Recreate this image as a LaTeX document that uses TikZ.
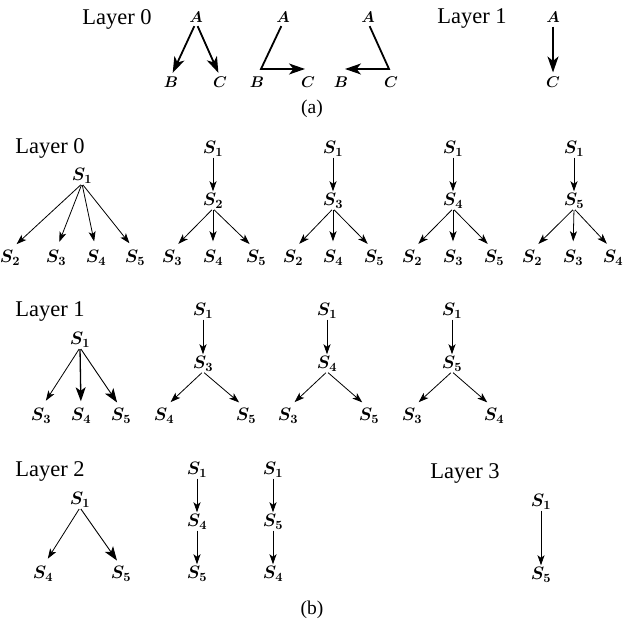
\RequirePackage{fix-cm}
\documentclass[tikz,border=0pt]{standalone}
\usepackage{amsmath}
\usepackage[no-math]{fontspec}
\newfontfamily\tnr{Liberation Serif}
\usetikzlibrary{arrows.meta}
\DeclareFontShape{OML}{cmm}{m}{it}{<-9>cmmi8<9-11>cmmi10<11->cmmi12}{}
\DeclareFontShape{OML}{cmm}{b}{it}{<->cmmib10}{}
\DeclareFontShape{OT1}{cmr}{m}{n}{<-9>cmr8<9-11>cmr10<11->cmr12}{}
\DeclareFontShape{OT1}{cmr}{bx}{n}{<->cmbx10}{}
\DeclareFontShape{OMS}{cmsy}{m}{n}{<-9>cmsy8<9->cmsy10}{}
\DeclareFontShape{OMS}{cmsy}{b}{n}{<->cmbsy10}{}
\newcommand\Sn[1]{$\boldsymbol{S_{#1}}$}
\tikzset{
  lay/.style={font=\tnr\fontsize{22.5}{26}\selectfont, inner sep=0pt},
  capt/.style={font=\tnr\fontsize{19.5}{22}\selectfont, inner sep=0pt},
  sn/.style={font=\fontsize{18}{21}\selectfont, inner sep=0pt},
  abn/.style={font=\fontsize{15.5}{17}\selectfont, inner sep=0pt},
  sarr/.tip={Stealth[length=10pt,width=7pt,inset=2.5pt]},
  barr/.tip={Stealth[length=14pt,width=10pt,inset=3.5pt]},
  tarr/.tip={Stealth[length=16pt,width=11pt,inset=4.5pt]},
  fan/.style={-sarr, line width=0.8pt, shorten <=1.5pt, shorten >=9pt},
  fanbig/.style={-barr, line width=0.9pt, shorten <=1.5pt, shorten >=7pt},
  chain/.style={-sarr, line width=0.8pt, shorten <=1pt, shorten >=2pt},
  thk/.style={-tarr, line width=1.8pt, line join=miter, shorten <=4pt}
}
\begin{document}
\begin{tikzpicture}[x=1pt,y=-1pt]
\useasboundingbox (0,0) rectangle (624,620);
% ---------------- (a) ----------------
\node[lay] (la0) at (117,19) {Layer 0};
\node[abn] (a1) at (196,17) {$\boldsymbol{A}$};
\node[abn] (b1) at (171,82) {$\boldsymbol{B}$};
\node[abn] (c1) at (220,82) {$\boldsymbol{C}$};
\draw[thk, shorten >=4pt] (a1.south) -- (b1.north);
\draw[thk, shorten >=4pt] (a1.south) -- (c1.north);
\node[abn] (a2) at (283,17) {$\boldsymbol{A}$};
\node[abn] (b2) at (257,82) {$\boldsymbol{B}$};
\node[abn] (c2) at (308,82) {$\boldsymbol{C}$};
\coordinate (k2) at (261,69);
\draw[thk, shorten >=3pt] (a2.south) -- (k2) -- (k2 -| c2);
\node[abn] (a3) at (368,17) {$\boldsymbol{A}$};
\node[abn] (b3) at (341,82) {$\boldsymbol{B}$};
\node[abn] (c3) at (391,82) {$\boldsymbol{C}$};
\coordinate (k3) at (389,69);
\draw[thk, shorten >=4pt] (a3.south) -- (k3) -- (k3 -| b3);
\node[lay] (la1) at (472,19) {Layer 1};
\node[abn] (a4) at (553,17) {$\boldsymbol{A}$};
\node[abn] (c4) at (553,82) {$\boldsymbol{C}$};
\draw[thk, shorten >=4pt] (a4.south) -- (c4.north);
\node[capt] (capa) at (312,109) {(a)};
% ---------------- (b) Layer 0 ----------------
\node[lay] (lb0) at (50,148) {Layer 0};
\node[sn] (t1r) at (82,176) {\Sn1};
\node[sn] (t1a) at (10,258) {\Sn2};
\node[sn] (t1b) at (56,258) {\Sn3};
\node[sn] (t1c) at (96,258) {\Sn4};
\node[sn] (t1d) at (135,258) {\Sn5};
\foreach \c in {t1a,t1b,t1c,t1d} \draw[fan] (t1r.south) -- (\c.north);
% tree 2
\node[sn] (t2r) at (213,149) {\Sn1};
\node[sn] (t2m) at (213,201) {\Sn2};
\node[sn] (t2a) at (172,258) {\Sn3};
\node[sn] (t2b) at (213,258) {\Sn4};
\node[sn] (t2c) at (256,258) {\Sn5};
\draw[chain] (t2r.south) -- (t2m.north);
\foreach \c in {t2a,t2b,t2c} \draw[fan] (t2m.south) -- (\c.north);
% tree 3
\node[sn] (t3r) at (333,149) {\Sn1};
\node[sn] (t3m) at (333,201) {\Sn3};
\node[sn] (t3a) at (293,258) {\Sn2};
\node[sn] (t3b) at (333,258) {\Sn4};
\node[sn] (t3c) at (374,258) {\Sn5};
\draw[chain] (t3r.south) -- (t3m.north);
\foreach \c in {t3a,t3b,t3c} \draw[fan] (t3m.south) -- (\c.north);
% tree 4
\node[sn] (t4r) at (453,149) {\Sn1};
\node[sn] (t4m) at (453,201) {\Sn4};
\node[sn] (t4a) at (412,258) {\Sn2};
\node[sn] (t4b) at (453,258) {\Sn3};
\node[sn] (t4c) at (494,258) {\Sn5};
\draw[chain] (t4r.south) -- (t4m.north);
\foreach \c in {t4a,t4b,t4c} \draw[fan] (t4m.south) -- (\c.north);
% tree 5
\node[sn] (t5r) at (574,149) {\Sn1};
\node[sn] (t5m) at (574,201) {\Sn5};
\node[sn] (t5a) at (532,258) {\Sn2};
\node[sn] (t5b) at (573,258) {\Sn3};
\node[sn] (t5c) at (613,258) {\Sn4};
\draw[chain] (t5r.south) -- (t5m.north);
\foreach \c in {t5a,t5b,t5c} \draw[fan] (t5m.south) -- (\c.north);
% ---------------- (b) Layer 1 ----------------
\node[lay] (lb1) at (50,312) {Layer 1};
\node[sn] (u1r) at (80,340) {\Sn1};
\node[sn] (u1a) at (41,416) {\Sn3};
\node[sn] (u1b) at (81,416) {\Sn4};
\node[sn] (u1c) at (121,416) {\Sn5};
\draw[fan] (u1r.south) -- (u1a.north);
\draw[fanbig, line width=1.3pt] (u1r.south) -- (u1b.north);
\draw[fanbig] (u1r.south) -- (u1c.north);
\node[sn] (u2r) at (203,311) {\Sn1};
\node[sn] (u2m) at (203,364) {\Sn3};
\node[sn] (u2a) at (164,416) {\Sn4};
\node[sn] (u2b) at (246,416) {\Sn5};
\draw[chain] (u2r.south) -- (u2m.north);
\foreach \c in {u2a,u2b} \draw[fan] (u2m.south) -- (\c.north);
\node[sn] (u3r) at (327,311) {\Sn1};
\node[sn] (u3m) at (327,364) {\Sn4};
\node[sn] (u3a) at (288,416) {\Sn3};
\node[sn] (u3b) at (369,416) {\Sn5};
\draw[chain] (u3r.south) -- (u3m.north);
\foreach \c in {u3a,u3b} \draw[fan] (u3m.south) -- (\c.north);
\node[sn] (u4r) at (452,311) {\Sn1};
\node[sn] (u4m) at (452,364) {\Sn5};
\node[sn] (u4a) at (412,416) {\Sn3};
\node[sn] (u4b) at (494,416) {\Sn4};
\draw[chain] (u4r.south) -- (u4m.north);
\foreach \c in {u4a,u4b} \draw[fan] (u4m.south) -- (\c.north);
% ---------------- (b) Layer 2 ----------------
\node[lay] (lb2) at (50,471) {Layer 2};
\node[sn] (v1r) at (80,500) {\Sn1};
\node[sn] (v1a) at (43,574) {\Sn4};
\node[sn] (v1b) at (121,574) {\Sn5};
\draw[fan] (v1r.south) -- (v1a.north);
\draw[fanbig] (v1r.south) -- (v1b.north);
\node[sn] (v2r) at (197,470) {\Sn1};
\node[sn] (v2m) at (197,522) {\Sn4};
\node[sn] (v2b) at (197,574) {\Sn5};
\draw[chain] (v2r.south) -- (v2m.north);
\draw[chain] (v2m.south) -- (v2b.north);
\node[sn] (v3r) at (273,470) {\Sn1};
\node[sn] (v3m) at (273,522) {\Sn5};
\node[sn] (v3b) at (273,574) {\Sn4};
\draw[chain] (v3r.south) -- (v3m.north);
\draw[chain] (v3m.south) -- (v3b.north);
% ---------------- (b) Layer 3 ----------------
\node[lay] (lb3) at (465,473) {Layer 3};
\node[sn] (w1r) at (541,502) {\Sn1};
\node[sn] (w1b) at (541,575) {\Sn5};
\draw[chain] (w1r.south) -- (w1b.north);
\node[capt] (capb) at (312,610) {(b)};
\end{tikzpicture}
\end{document}
